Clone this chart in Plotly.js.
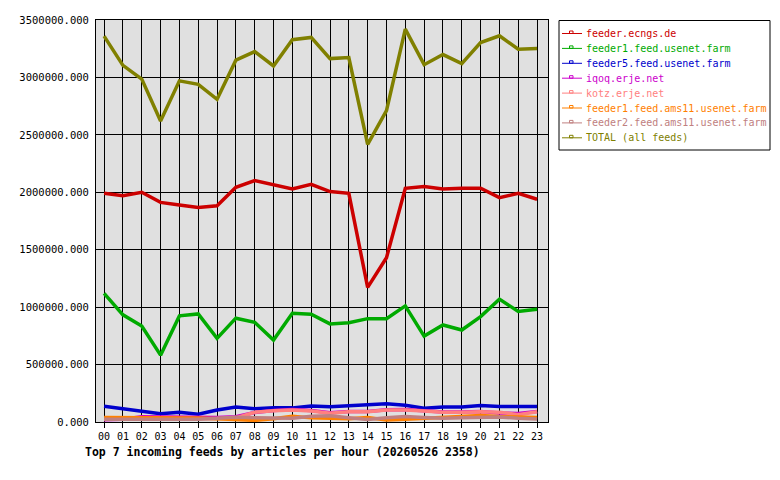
<!DOCTYPE html>
<html>
<head>
<meta charset="utf-8">
<script src="https://cdn.plot.ly/plotly-3.0.1.min.js"></script>
<style>
  body { margin: 0; background: #fff; }
  #chart { width: 780px; height: 480px; }
</style>
</head>
<body>
<div id="chart"></div>
<script>
const hours = ['00', '01', '02', '03', '04', '05', '06', '07', '08', '09', '10', '11',
  '12', '13', '14', '15', '16', '17', '18', '19', '20', '21', '22', '23']

// articles per hour
const ecngs = [1991000, 1971000, 2000000, 1912000, 1889000, 1868000, 1883000, 2044000, 2102000, 2064000, 2029000, 2070000,
  2006000, 1991000, 1172000, 1430000, 2035000, 2050000, 2029000, 2035000, 2035000, 1953000, 1991000, 1939000]
const feeder1 = [1120000, 933000, 836000, 582000, 924000, 941000, 728000, 904000, 868000, 713000, 947000, 939000,
  854000, 865000, 900000, 900000, 1011000, 748000, 845000, 801000, 918000, 1070000, 962000, 982000]
const feeder5 = [138000, 117000, 92000, 72000, 85000, 67000, 105000, 130000, 115000, 123000, 123000, 140000,
  132000, 140000, 152000, 158000, 146000, 120000, 131000, 131000, 144000, 135000, 135000, 135000]
const iqoq = [20000, 25000, 45000, 42000, 40000, 38000, 40000, 45000, 82000, 100000, 108000, 100000,
  80000, 92000, 92000, 107000, 108000, 98000, 88000, 86000, 92000, 78000, 74000, 92000]
const kotz = [25000, 25000, 28000, 28000, 28000, 28000, 30000, 35000, 85000, 97000, 105000, 96000,
  76000, 90000, 90000, 105000, 105000, 96000, 85000, 85000, 90000, 85000, 64000, 90000]
const ams1 = [40000, 40000, 36000, 34000, 34000, 34000, 28000, 18000, 14000, 28000, 50000, 36000,
  30000, 28000, 40000, 18000, 24000, 32000, 46000, 52000, 56000, 48000, 44000, 40000]
const ams2 = [23000, 23000, 23000, 23000, 23000, 24000, 32000, 41000, 38000, 33000, 32000, 50000,
  54000, 38000, 22000, 38000, 47000, 40000, 32000, 38000, 44000, 44000, 32000, 26000]
const total = [3360000, 3105000, 2985000, 2620000, 2970000, 2940000, 2810000, 3150000, 3225000, 3100000, 3328000, 3348000,
  3164000, 3173000, 2418000, 2711000, 3421000, 3111000, 3199000, 3120000, 3304000, 3363000, 3246000, 3251000]

const names = ['feeder.ecngs.de', 'feeder1.feed.usenet.farm', 'feeder5.feed.usenet.farm', 'iqoq.erje.net',
  'kotz.erje.net', 'feeder1.feed.ams11.usenet.farm', 'feeder2.feed.ams11.usenet.farm', 'TOTAL (all feeds)']
const series = [ecngs, feeder1, feeder5, iqoq, kotz, ams1, ams2, total]
const colors = ['#cc0000', '#00aa00', '#0000cc', '#cc00cc', '#ff8080', '#ff8000', '#c08080', '#808000']

const FONT = 'DejaVu Sans Mono, Liberation Mono, monospace'

// plot area in pixels, used to place the hand-made legend box
const W = 780, H = 480
const M = { l: 96, r: 232, t: 20, b: 58 }
const px = x => (x - M.l) / (W - M.l - M.r)
const py = y => (H - M.b - y) / (H - M.t - M.b)

const traces = series.map((ys, i) => ({
  x: hours,
  y: ys,
  name: names[i],
  type: 'scatter',
  mode: 'lines',
  line: { color: colors[i], width: 3.5 },
  hoverinfo: 'x+y'
}))

// legend: box, short line with a small square, coloured name
const shapes = [{
  type: 'rect', xref: 'paper', yref: 'paper',
  x0: px(559), x1: px(770), y0: py(20.5), y1: py(150),
  line: { color: '#000', width: 1 }, fillcolor: '#fff', layer: 'above'
}]
const annotations = []
names.forEach((name, i) => {
  const yc = 33.5 + i * 14.9
  shapes.push({
    type: 'line', xref: 'paper', yref: 'paper',
    x0: px(562), x1: px(582), y0: py(yc), y1: py(yc),
    line: { color: colors[i], width: 1 }, layer: 'above'
  })
  shapes.push({
    type: 'rect', xref: 'paper', yref: 'paper',
    x0: px(569.5), x1: px(573), y0: py(yc), y1: py(yc - 2.5),
    line: { color: colors[i], width: 1 }, fillcolor: 'rgba(0,0,0,0)', layer: 'above'
  })
  annotations.push({
    text: name, xref: 'paper', yref: 'paper',
    x: px(584), y: py(yc), xanchor: 'left', yanchor: 'middle',
    showarrow: false, font: { family: FONT, size: 10, color: colors[i] }
  })
})
annotations.push({
  text: '<b>Top 7 incoming feeds by articles per hour (20260526 2358)</b>',
  xref: 'paper',
  yref: 'paper',
  x: px(83),
  y: py(452),
  xanchor: 'left',
  yanchor: 'middle',
  showarrow: false,
  font: { family: FONT, size: 11.5, color: '#000' }
})

const layout = {
  width: W,
  height: H,
  margin: M,
  paper_bgcolor: '#ffffff',
  plot_bgcolor: '#e0e0e0',
  font: { family: FONT, size: 10, color: '#000' },
  showlegend: false,
  xaxis: {
    type: 'category',
    range: [-0.43, 23.58],
    showgrid: true,
    gridcolor: '#000',
    gridwidth: 1,
    ticks: 'outside',
    ticklen: 5,
    tickcolor: '#000',
    showline: true,
    linecolor: '#000',
    mirror: true,
    zeroline: false,
    fixedrange: true
  },
  yaxis: {
    range: [0, 3500000],
    dtick: 500000,
    tickformat: '.3f',
    tickfont: { family: FONT, size: 10.5 },
    ticklabelstandoff: 4,
    showgrid: true,
    gridcolor: '#000',
    gridwidth: 1,
    ticks: '',
    showline: true,
    linecolor: '#000',
    mirror: true,
    zeroline: false,
    fixedrange: true
  },
  shapes: shapes,
  annotations: annotations
}

Plotly.newPlot('chart', traces, layout, { displayModeBar: false, staticPlot: true })
</script>
</body>
</html>
